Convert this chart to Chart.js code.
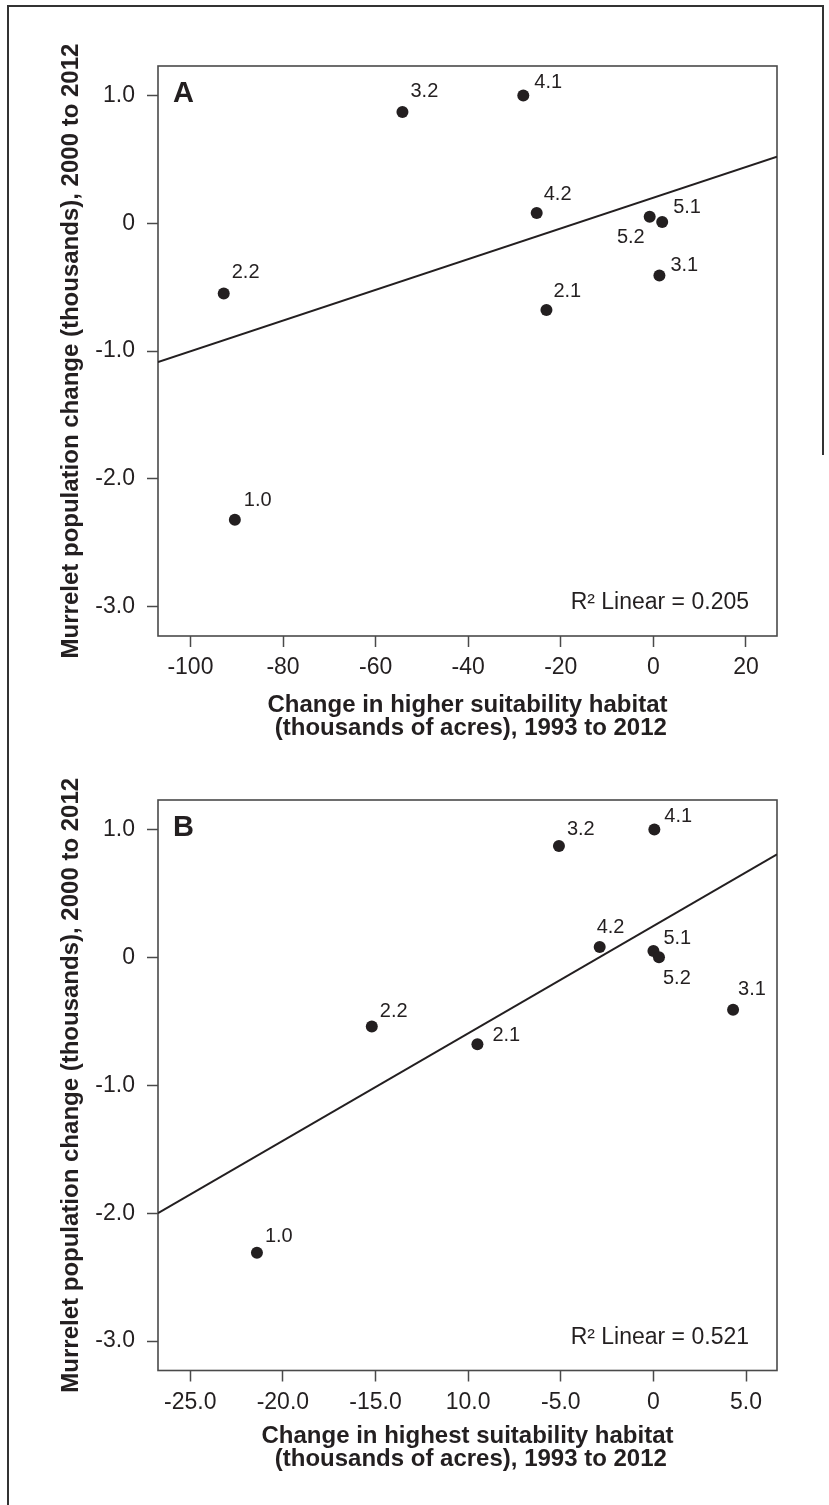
<!DOCTYPE html>
<html>
<head>
<meta charset="utf-8">
<title>Murrelet population change vs habitat change</title>
<script src="https://cdn.jsdelivr.net/npm/chart.js@4.4.1/dist/chart.umd.min.js"></script>
<style>
  html, body { margin: 0; padding: 0; background: #fff; }
  #page { position: relative; width: 829px; height: 1505px; overflow: hidden; background: #fff; }
  #page canvas { position: absolute; left: 0; }
  #chartA { top: 0; }
  #chartB { top: 734px; }
  .rule { position: absolute; background: #333; }
</style>
</head>
<body>
<div id="page">
  <div class="rule" style="left:7px; top:5px; width:2px; height:1500px;"></div>
  <div class="rule" style="left:7px; top:5px; width:817px; height:2px;"></div>
  <div class="rule" style="left:822px; top:5px; width:2px; height:450px;"></div>
  <canvas id="chartA" width="829" height="760"></canvas>
  <canvas id="chartB" width="829" height="771"></canvas>
</div>
<script>
/*************************************************
 * DATA
 *************************************************/

// Panel A: change in higher suitability habitat
const regionsA = ["3.2", "4.1", "4.2", "5.2", "5.1", "3.1", "2.1", "2.2", "1.0"];
const higherHabitat = [-54.2, -28.1, -25.2, -0.8, 1.9, 1.3, -23.1, -92.8, -90.4];
const popChangeA = [0.87, 1.0, 0.08, 0.05, 0.01, -0.41, -0.68, -0.55, -2.32];
const r2TextA = "R\u00B2 Linear = 0.205";

// Panel B: change in highest suitability habitat
const regionsB = ["3.2", "4.1", "4.2", "5.1", "5.2", "3.1", "2.1", "2.2", "1.0"];
const highestHabitat = [-5.1, 0.05, -2.9, 0.0, 0.3, 4.3, -9.5, -15.2, -21.4];
const popChangeB = [0.87, 1.0, 0.08, 0.05, 0.0, -0.41, -0.68, -0.54, -2.31];
const r2TextB = "R\u00B2 Linear = 0.521";

// Axis ticks
const yTicks = [-3, -2, -1, 0, 1];
const yTickLabels = ["-3.0", "-2.0", "-1.0", "0", "1.0"];
const xTicksA = [-100, -80, -60, -40, -20, 0, 20];
const xTickLabelsA = ["-100", "-80", "-60", "-40", "-20", "0", "20"];
const xTicksB = [-25, -20, -15, -10, -5, 0, 5];
const xTickLabelsB = ["-25.0", "-20.0", "-15.0", "10.0", "-5.0", "0", "5.0"];

const yTitle = "Murrelet population change (thousands), 2000 to 2012";
const xTitleA = ["Change in higher suitability habitat", " (thousands of acres), 1993 to 2012"];
const xTitleB = ["Change in highest suitability habitat", " (thousands of acres), 1993 to 2012"];


/*************************************************
 * STYLE
 *************************************************/
const INK = "#231f20";
const FRAME = "#4a4a4a";
const FONT = "'Liberation Sans', Arial, Helvetica, sans-serif";

// label offsets from point centre: [dx, dy(baseline), align]
const labelOffsetsA = [
  [8, -15], [11, -7], [7, -13], [-5, 26, "right"], [11, -9],
  [11, -5], [7, -13], [8, -15], [9, -14]
];
const labelOffsetsB = [
  [8, -11], [10, -7], [-3, -14], [10, -7], [4, 27],
  [5, -15], [15, -3], [8, -9], [8, -11]
];


/*************************************************
 * LEAST SQUARES FIT
 *************************************************/
function linearFit(xs, ys) {
  const n = xs.length;
  const mx = xs.reduce((a, b) => a + b, 0) / n;
  const my = ys.reduce((a, b) => a + b, 0) / n;
  let sxy = 0, sxx = 0;
  xs.forEach((x, i) => {
    sxy += (x - mx) * (ys[i] - my);
    sxx += (x - mx) * (x - mx);
  });
  const slope = sxy / sxx;
  return { slope, intercept: my - slope * mx };
}


/*************************************************
 * PLUGINS
 *************************************************/
// box around plot area
const frameBox = {
  id: "frameBox",
  beforeDatasetsDraw(chart) {
    const { ctx, chartArea: a } = chart;
    ctx.save();
    ctx.strokeStyle = FRAME;
    ctx.lineWidth = 1.6;
    ctx.strokeRect(a.left, a.top, a.right - a.left, a.bottom - a.top);
    ctx.restore();
  }
};

// region labels next to points, panel letter, R2 note, y title
const annotations = {
  id: "annotations",
  afterDatasetsDraw(chart, args, opts) {
    const { ctx, chartArea: a } = chart;
    const meta = chart.getDatasetMeta(1);
    ctx.save();
    ctx.fillStyle = INK;

    ctx.font = "20px " + FONT;
    ctx.textBaseline = "alphabetic";
    meta.data.forEach((pt, i) => {
      const off = opts.offsets[i];
      ctx.textAlign = off[2] || "left";
      ctx.fillText(opts.labels[i], pt.x + off[0], pt.y + off[1]);
    });

    ctx.font = "bold 29px " + FONT;
    ctx.textAlign = "left";
    ctx.fillText(opts.letter, a.left + 15, a.top + 36);

    ctx.font = "23px " + FONT;
    ctx.textAlign = "right";
    ctx.fillText(opts.note, a.right - 28, a.bottom - 27);

    ctx.font = "bold 24px " + FONT;
    ctx.textAlign = "center";
    ctx.textBaseline = "middle";
    ctx.translate(71, (a.top + a.bottom) / 2);
    ctx.rotate(-Math.PI / 2);
    ctx.fillText(yTitle, 0, 0);
    ctx.restore();
  }
};


/*************************************************
 * CHART BUILDER
 *************************************************/
function makeChart(id, p) {
  const fit = linearFit(p.xs, p.ys);
  const ctx = document.getElementById(id).getContext("2d");

  return new Chart(ctx, {
    data: {
      datasets: [
        {
          type: "line",
          data: [
            { x: p.xMin, y: fit.intercept + fit.slope * p.xMin },
            { x: p.xMax, y: fit.intercept + fit.slope * p.xMax }
          ],
          borderColor: INK,
          borderWidth: 2,
          pointRadius: 0,
          fill: false
        },
        {
          type: "scatter",
          data: p.xs.map((x, i) => ({ x, y: p.ys[i] })),
          backgroundColor: INK,
          borderWidth: 0,
          pointRadius: 6
        }
      ]
    },
    options: {
      responsive: false,
      animation: false,
      devicePixelRatio: 1,
      events: [],
      layout: { padding: { left: 0, right: 52, top: 66, bottom: 0 } },
      plugins: {
        legend: { display: false },
        tooltip: { enabled: false },
        annotations: { labels: p.labels, offsets: p.offsets, letter: p.letter, note: p.note }
      },
      scales: {
        x: {
          type: "linear",
          min: p.xMin,
          max: p.xMax,
          afterBuildTicks: s => { s.ticks = p.xTicks.map(v => ({ value: v })); },
          afterFit: s => { s.height = p.xAxisHeight; },
          ticks: {
            autoSkip: false,
            maxRotation: 0,
            padding: 7,
            color: INK,
            font: { family: FONT, size: 23 },
            callback: (v, i) => p.xTickLabels[i]
          },
          grid: { drawOnChartArea: false, tickLength: 11, tickColor: FRAME, tickWidth: 1.5 },
          border: { display: false },
          title: {
            display: true,
            text: p.xTitle,
            color: INK,
            font: { family: FONT, size: 24, weight: "bold", lineHeight: 0.95 },
            padding: { top: 0, bottom: p.titlePad }
          }
        },
        y: {
          type: "linear",
          min: -3.23,
          max: 1.23,
          afterBuildTicks: s => { s.ticks = yTicks.map(v => ({ value: v })); },
          afterFit: s => { s.width = 158; },
          ticks: {
            autoSkip: false,
            padding: 12,
            color: INK,
            font: { family: FONT, size: 23 },
            callback: (v, i) => yTickLabels[i]
          },
          grid: { drawOnChartArea: false, tickLength: 11, tickColor: FRAME, tickWidth: 1.5 },
          border: { display: false }
        }
      }
    },
    plugins: [frameBox, annotations]
  });
}

makeChart("chartA", {
  xs: higherHabitat, ys: popChangeA, labels: regionsA, offsets: labelOffsetsA,
  xMin: -107, xMax: 26.7, xTicks: xTicksA, xTickLabels: xTickLabelsA,
  xTitle: xTitleA, xAxisHeight: 124, titlePad: 20, letter: "A", note: r2TextA
});

makeChart("chartB", {
  xs: highestHabitat, ys: popChangeB, labels: regionsB, offsets: labelOffsetsB,
  xMin: -26.74, xMax: 6.67, xTicks: xTicksB, xTickLabels: xTickLabelsB,
  xTitle: xTitleB, xAxisHeight: 134.5, titlePad: 34, letter: "B", note: r2TextB
});
</script>
</body>
</html>
